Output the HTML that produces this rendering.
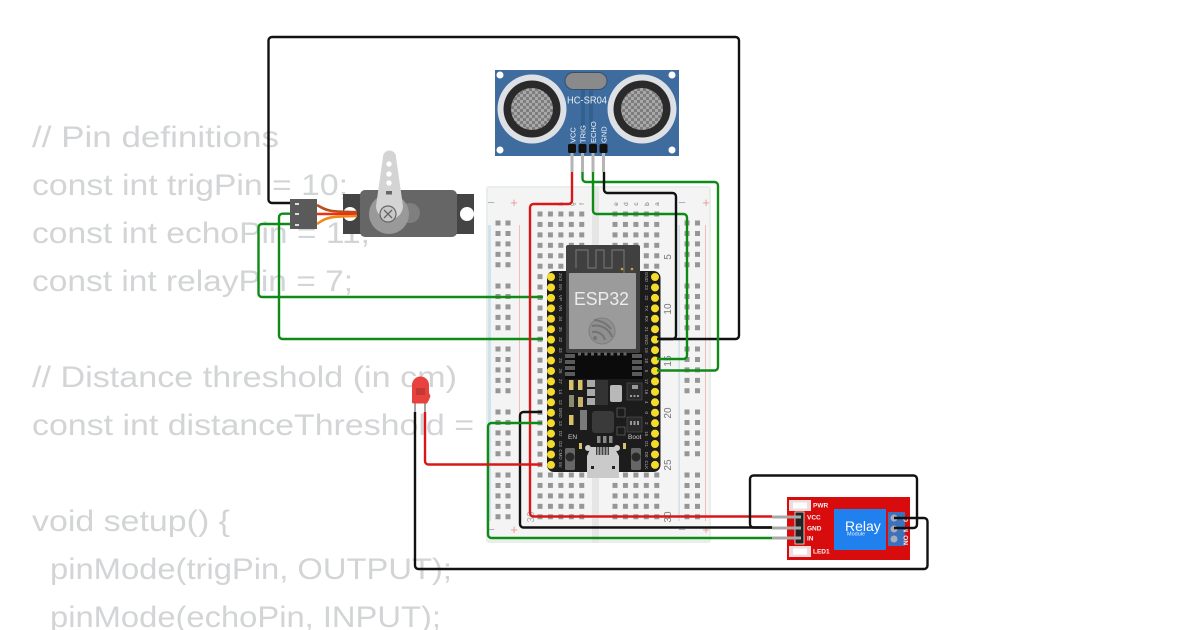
<!DOCTYPE html>
<html><head><meta charset="utf-8"><style>
html,body{margin:0;padding:0;background:#fff;width:1200px;height:630px;overflow:hidden}
svg{display:block}
.c{font-family:"Liberation Sans",sans-serif;font-size:30px;fill:#d2d4d6}
.w{fill:none;stroke-width:2.4;stroke-linejoin:round}
.m{font-family:"Liberation Sans",sans-serif}
</style></head><body>
<svg width="1200" height="630" viewBox="0 0 1200 630" xmlns="http://www.w3.org/2000/svg">
<defs>
<pattern id="h" x="537.5" y="211.5" width="10.44" height="10.44" patternUnits="userSpaceOnUse"><rect width="5" height="5" fill="#969696"/></pattern>
<pattern id="h2" x="612.5" y="211.5" width="10.44" height="10.44" patternUnits="userSpaceOnUse"><rect width="5" height="5" fill="#969696"/></pattern>
<pattern id="mesh" width="6" height="6" patternUnits="userSpaceOnUse" patternTransform="translate(1 1)"><rect width="6" height="6" fill="#7d7d7d"/><rect width="3" height="3" fill="#a8a8a8"/><rect x="3" y="3" width="3" height="3" fill="#a8a8a8"/></pattern>
</defs>
<g class="c" lengthAdjust="spacingAndGlyphs">
<text x="32" y="147" textLength="247" lengthAdjust="spacingAndGlyphs">// Pin definitions</text>
<text x="32" y="195" textLength="316" lengthAdjust="spacingAndGlyphs">const int trigPin = 10;</text>
<text x="32" y="243" textLength="338" lengthAdjust="spacingAndGlyphs">const int echoPin = 11;</text>
<text x="32" y="291" textLength="321" lengthAdjust="spacingAndGlyphs">const int relayPin = 7;</text>
<text x="32" y="387" textLength="425" lengthAdjust="spacingAndGlyphs">// Distance threshold (in cm)</text>
<text x="32" y="435" textLength="442" lengthAdjust="spacingAndGlyphs">const int distanceThreshold =</text>
<text x="32" y="531" textLength="198" lengthAdjust="spacingAndGlyphs">void setup() {</text>
<text x="50" y="579" textLength="402" lengthAdjust="spacingAndGlyphs">pinMode(trigPin, OUTPUT);</text>
<text x="50" y="627" textLength="391" lengthAdjust="spacingAndGlyphs">pinMode(echoPin, INPUT);</text>
</g>

<!-- breadboard -->
<rect x="486" y="186" width="225" height="357" rx="3" fill="#e8efe8"/>
<rect x="488" y="188" width="221" height="352" fill="#f4f4f4"/>
<rect x="592" y="186" width="7" height="357" fill="#e6e6e6"/>
<rect x="488" y="225" width="3" height="296" fill="#cfe3ee"/>
<rect x="519" y="225" width="1" height="296" fill="#f2bcbc"/>
<rect x="678.500" y="225" width="1.200" height="296" fill="#c4dcea"/>
<rect x="705" y="225" width="1" height="296" fill="#f2bcbc"/>
<rect x="535" y="209" width="52.500" height="314" fill="url(#h)"/>
<rect x="610" y="209" width="52.500" height="314" fill="url(#h2)"/>
<g stroke="#969696" stroke-width="5" fill="none" stroke-dasharray="5 5.440">
<path d="M498 220.500V268M508 220.500V268M498 283.500V331M508 283.500V331M498 346.500V394M508 346.500V394M498 409.500V457M508 409.500V457M498 472.500V520M508 472.500V520"/>
<path d="M687 220.500V268M697.500 220.500V268M687 283.500V331M697.500 283.500V331M687 346.500V394M697.500 346.500V394M687 409.500V457M697.500 409.500V457M687 472.500V520M697.500 472.500V520"/>
</g>
<g class="m" font-size="10" fill="#777" text-anchor="middle">
<text transform="translate(671,257) rotate(-90)">5</text>
<text transform="translate(671,309) rotate(-90)">10</text>
<text transform="translate(671,361) rotate(-90)">15</text>
<text transform="translate(671,413) rotate(-90)">20</text>
<text transform="translate(671,465) rotate(-90)">25</text>
<text transform="translate(671,517) rotate(-90)">30</text>
<text transform="translate(534,517) rotate(-90)" fill="#aaa">30</text>
<g font-size="6.500">
<text transform="translate(543,204) rotate(-90)">j</text>
<text transform="translate(553,204) rotate(-90)">i</text>
<text transform="translate(563,204) rotate(-90)">h</text>
<text transform="translate(574,204) rotate(-90)">g</text>
<text transform="translate(584,204) rotate(-90)">f</text>
<text transform="translate(618,204) rotate(-90)">e</text>
<text transform="translate(628,204) rotate(-90)">d</text>
<text transform="translate(638,204) rotate(-90)">c</text>
<text transform="translate(649,204) rotate(-90)">b</text>
<text transform="translate(659,204) rotate(-90)">a</text>
</g>
</g>
<g class="m" font-size="13" text-anchor="middle">
<text x="491" y="207" fill="#aac">−</text><text x="514" y="207" fill="#e89a9a">+</text>
<text x="682" y="207" fill="#aac">−</text><text x="706" y="207" fill="#e89a9a">+</text>
<text x="491" y="534" fill="#aac">−</text><text x="514" y="534" fill="#e89a9a">+</text>
<text x="682" y="534" fill="#aac">−</text><text x="706" y="534" fill="#e89a9a">+</text>
</g>

<!-- ESP32 -->
<rect x="547" y="271" width="113.500" height="201" rx="7" fill="#1c1c1c"/>
<rect x="566" y="245" width="74" height="108" rx="2" fill="#404040"/>
<path d="M576 268V250h12v18h8V250h8v18h8V250h12v24" fill="none" stroke="#707070" stroke-width="1.200"/>
<circle cx="622" cy="269" r="1.300" fill="#c8a040"/><circle cx="632" cy="269" r="1.300" fill="#c8a040"/>
<rect x="569" y="273" width="67" height="76" rx="1" fill="#9b9b9b"/>
<text class="m" x="574" y="305" font-size="18.500" fill="#ececec" textLength="55" lengthAdjust="spacingAndGlyphs">ESP32</text>
<circle cx="602" cy="331" r="13" fill="#909090" stroke="#7e7e7e" stroke-width="1"/>
<path d="M592 326a17 17 0 0 1 20 11M592 332a11 11 0 0 1 13 8M594 320a24 24 0 0 1 17 9" fill="none" stroke="#747474" stroke-width="2"/>
<circle cx="595" cy="338" r="2" fill="#747474"/>
<rect x="565" y="353" width="78" height="26" fill="#0b0b0b"/>
<g fill="#5a5a5a"><rect x="565" y="354" width="10" height="4"/><rect x="565" y="360" width="10" height="4"/><rect x="565" y="366" width="10" height="4"/><rect x="565" y="372" width="10" height="4"/><rect x="632" y="354" width="10" height="4"/><rect x="632" y="360" width="10" height="4"/><rect x="632" y="366" width="10" height="4"/><rect x="632" y="372" width="10" height="4"/></g>
<path d="M578 354H628" stroke="#666" stroke-width="3" stroke-dasharray="3 3.500"/>
<g stroke="#f5dc2b" stroke-width="8" stroke-linecap="round" fill="none" stroke-dasharray="0 10.440">
<path d="M551 277V466M655 277V466"/>
</g>
<g class="m" font-size="4.500" fill="#aaa" text-anchor="middle">
<text transform="translate(559,277) rotate(90)">3V3</text><text transform="translate(559,287.400) rotate(90)">EN</text><text transform="translate(559,297.900) rotate(90)">VP</text><text transform="translate(559,308.300) rotate(90)">VN</text><text transform="translate(559,318.800) rotate(90)">34</text><text transform="translate(559,329.200) rotate(90)">35</text><text transform="translate(559,339.600) rotate(90)">32</text><text transform="translate(559,350.100) rotate(90)">33</text><text transform="translate(559,360.500) rotate(90)">25</text><text transform="translate(559,371) rotate(90)">26</text><text transform="translate(559,381.400) rotate(90)">27</text><text transform="translate(559,391.800) rotate(90)">14</text><text transform="translate(559,402.300) rotate(90)">12</text><text transform="translate(559,412.700) rotate(90)">GND</text><text transform="translate(559,423.200) rotate(90)">13</text><text transform="translate(559,433.600) rotate(90)">D2</text><text transform="translate(559,444) rotate(90)">D3</text><text transform="translate(559,454.500) rotate(90)">CMD</text><text transform="translate(559,464.900) rotate(90)">5V</text>
<text transform="translate(645,277) rotate(90)">GND</text><text transform="translate(645,287.400) rotate(90)">23</text><text transform="translate(645,297.900) rotate(90)">22</text><text transform="translate(645,308.300) rotate(90)">TX</text><text transform="translate(645,318.800) rotate(90)">RX</text><text transform="translate(645,329.200) rotate(90)">21</text><text transform="translate(645,339.600) rotate(90)">GND</text><text transform="translate(645,350.100) rotate(90)">19</text><text transform="translate(645,360.500) rotate(90)">18</text><text transform="translate(645,371) rotate(90)">5</text><text transform="translate(645,381.400) rotate(90)">17</text><text transform="translate(645,391.800) rotate(90)">16</text><text transform="translate(645,402.300) rotate(90)">4</text><text transform="translate(645,412.700) rotate(90)">0</text><text transform="translate(645,423.200) rotate(90)">2</text><text transform="translate(645,433.600) rotate(90)">15</text><text transform="translate(645,444) rotate(90)">D1</text><text transform="translate(645,454.500) rotate(90)">D0</text><text transform="translate(645,464.900) rotate(90)">CLK</text>
</g>
<!-- components -->
<rect x="569" y="380" width="4.500" height="10" fill="#d9c06a"/><rect x="578" y="380" width="4.500" height="10" fill="#d9c06a"/>
<rect x="569" y="395" width="5" height="12" fill="#8a8a70"/><rect x="578" y="397" width="5" height="10" fill="#c9b36a"/>
<rect x="595" y="380" width="13" height="25" fill="#333"/>
<rect x="587" y="380" width="8" height="7" fill="#aaa"/><rect x="587" y="389" width="8" height="7" fill="#aaa"/><rect x="587" y="398" width="8" height="7" fill="#aaa"/>
<rect x="610" y="385" width="12" height="17" rx="2" fill="#b8b8b8"/>
<rect x="627" y="383" width="15" height="17" fill="#2a2a2a" stroke="#555" stroke-width=".6"/><rect x="632" y="385" width="6" height="4" fill="#999"/><path d="M630 396h9" stroke="#999" stroke-width="2" stroke-dasharray="2 1.500"/>
<rect x="592" y="411" width="22" height="22" rx="3" fill="#3a3a3a"/>
<rect x="569" y="415" width="4.500" height="10" fill="#d9c06a"/>
<rect x="580" y="410" width="7" height="20" fill="#9a9a9a" opacity=".75"/>
<rect x="617" y="408" width="8" height="9" fill="none" stroke="#666" stroke-width=".7"/>
<rect x="617" y="427" width="8" height="8" fill="none" stroke="#666" stroke-width=".7"/>
<rect x="627" y="417" width="15" height="15" fill="#2a2a2a" stroke="#555" stroke-width=".6"/><path d="M630 423h9" stroke="#999" stroke-width="4" stroke-dasharray="2 1.500"/>
<rect x="597" y="436" width="3.500" height="7" fill="#888"/><rect x="603" y="436" width="3.500" height="7" fill="#888"/><rect x="609" y="436" width="3.500" height="7" fill="#888"/>
<rect x="579" y="443" width="3" height="6" fill="#d9c06a"/><rect x="623" y="443" width="3" height="6" fill="#d9c06a"/>
<text class="m" x="568" y="439" font-size="6.500" fill="#ccc">EN</text>
<text class="m" x="628" y="439" font-size="6.500" fill="#ccc">Boot</text>
<rect x="565" y="448" width="10" height="22" rx="1.500" fill="#666"/><circle cx="570" cy="457" r="4.500" fill="#2a2a2a"/>
<rect x="631" y="448" width="10" height="22" rx="1.500" fill="#666"/><circle cx="636" cy="457" r="4.500" fill="#2a2a2a"/>
<circle cx="588" cy="448" r="3" fill="#ccc"/><circle cx="617" cy="448" r="3" fill="#ccc"/>
<path d="M591 447H614L619 456V478H587V456Z" fill="#cacaca"/>
<rect x="596" y="447" width="13" height="8" fill="#444"/>
<path d="M598 447v8M601 447v8M604 447v8M607 447v8" stroke="#ddd" stroke-width="1"/>
<rect x="591" y="466" width="3" height="3" fill="#222"/><rect x="612" y="466" width="3" height="3" fill="#222"/>

<!-- HC-SR04 -->
<rect x="495" y="70" width="184" height="86" fill="#3f6c9e"/>
<circle cx="500" cy="75" r="3.500" fill="#fff"/><circle cx="672" cy="75" r="3.500" fill="#fff"/>
<circle cx="500" cy="150" r="3.500" fill="#fff"/><circle cx="672" cy="150" r="3.500" fill="#fff"/>
<circle cx="532" cy="109" r="34.500" fill="#dde1e5"/><circle cx="532" cy="109" r="28.500" fill="#2a2a2a"/><circle cx="532" cy="109" r="21" fill="url(#mesh)"/>
<circle cx="642" cy="109" r="34.500" fill="#dde1e5"/><circle cx="642" cy="109" r="28.500" fill="#2a2a2a"/><circle cx="642" cy="109" r="21" fill="url(#mesh)"/>
<rect x="565" y="72.500" width="42" height="17" rx="8.500" fill="#8a8a8a" stroke="#33506f" stroke-width="1"/>
<rect x="581" y="90" width="4" height="40" fill="#33608f"/><rect x="589" y="90" width="4" height="40" fill="#33608f"/>
<text class="m" x="567" y="103.500" font-size="10" fill="#eaeef2" textLength="40" lengthAdjust="spacingAndGlyphs">HC-SR04</text>
<g class="m" font-size="7.500" fill="#f2f5fa">
<text transform="translate(575.500,143) rotate(-90)">VCC</text>
<text transform="translate(585.500,143) rotate(-90)">TRIG</text>
<text transform="translate(596,143) rotate(-90)">ECHO</text>
<text transform="translate(606.500,143) rotate(-90)">GND</text>
</g>
<path d="M572 152V172M582.500 152V172M593 152V172M603.500 152V172" stroke="#b5b5b5" stroke-width="3"/>
<g fill="#111"><rect x="568" y="144" width="8" height="9" rx="1.500"/><rect x="578.500" y="144" width="8" height="9" rx="1.500"/><rect x="589" y="144" width="8" height="9" rx="1.500"/><rect x="599.500" y="144" width="8" height="9" rx="1.500"/></g>

<!-- servo -->
<rect x="343" y="194" width="131" height="40" fill="#444"/>
<circle cx="350" cy="214" r="7" fill="#fff"/><circle cx="467" cy="214" r="7" fill="#fff"/>
<rect x="360" y="190" width="97" height="47" rx="5" fill="#666"/>
<circle cx="410" cy="213" r="10" fill="#7f7f7f"/>
<circle cx="389" cy="214" r="20" fill="#999"/>
<path d="M383 157a6.500 6.500 0 0 1 13 0L403 206a13 13 0 1 1-27 0Z" fill="#d4d4d4"/>
<circle cx="389" cy="164" r="2.700" fill="#fff"/><circle cx="389" cy="174" r="2.700" fill="#fff"/><circle cx="389" cy="183" r="2.700" fill="#fff"/>
<rect x="386" y="191" width="6" height="3.500" fill="#666"/>
<circle cx="388" cy="214" r="8" fill="#c8c8c8" stroke="#666" stroke-width="1.200"/>
<path d="M384 210l8 8M392 210l-8 8" stroke="#666" stroke-width="1.300"/>
<path d="M317 205C327 211 330 212 357 212" fill="none" stroke="#b8501c" stroke-width="2.600"/>
<path d="M317 214H357" fill="none" stroke="#ee2f12" stroke-width="2.600"/>
<path d="M317 224C327 217 330 216.500 357 216" fill="none" stroke="#ee8a1b" stroke-width="2.600"/>
<rect x="290" y="199" width="27" height="30" fill="#5a5a5a"/>
<g fill="#ddd"><rect x="295" y="203" width="4" height="2"/><rect x="295" y="213" width="4" height="2"/><rect x="295" y="224" width="4" height="2"/></g>

<!-- LED -->
<path d="M415 402V412M425 402V412" stroke="#999" stroke-width="1.800"/>
<path d="M412 403V385a8.500 8.500 0 0 1 17 0V393l1.500 3-1.500 4-2 3.500H414Z" fill="#e8423f"/>
<rect x="416" y="388" width="9" height="7" fill="#b83432" opacity=".75"/>

<!-- relay -->
<rect x="787" y="497" width="123" height="63" fill="#d80c0c"/>
<rect x="789" y="500" width="22" height="11" fill="#f0dcdc"/><rect x="793" y="502.500" width="14" height="6" fill="#fff"/>
<rect x="789" y="546" width="22" height="11" fill="#f0dcdc"/><rect x="793" y="548.500" width="14" height="6" fill="#fff"/>
<rect x="795" y="512" width="9" height="32" fill="#222" stroke="#eee" stroke-width=".8"/>
<rect x="834" y="509" width="52" height="41" fill="#2080ee"/>
<text class="m" x="845" y="531" font-size="14" fill="#fff">Relay</text>
<text class="m" x="847" y="535.500" font-size="5.500" fill="#e5f0ff">Module</text>
<rect x="888" y="512" width="17" height="34" fill="#3a72bb"/>
<circle cx="894" cy="518" r="3.500" fill="#aab"/><circle cx="894" cy="529" r="3.500" fill="#aab"/><circle cx="894" cy="539" r="3.500" fill="#aab"/>
<g class="m" font-size="6.500" fill="#f4f4f4" font-weight="bold">
<text x="813" y="507.500">PWR</text><text x="807" y="519.500">VCC</text><text x="807" y="530.500">GND</text><text x="807" y="540.500">IN</text><text x="813" y="553.500">LED1</text>
<text transform="translate(908,522) rotate(-90)">C</text>
<text transform="translate(908,532) rotate(-90)">M</text>
<text transform="translate(908,545) rotate(-90)">NO</text>
</g>
<path d="M772 517H801M772 528H801M772 538H801" stroke="#a8a8a8" stroke-width="3"/>

<!-- wires -->
<g class="w">
<path stroke="#111" d="M290 203H272a3.500 3.500 0 0 1-3.500-3.500V40.500A3.500 3.500 0 0 1 272 37H735.500a3.500 3.500 0 0 1 3.500 3.500V335.500a3.500 3.500 0 0 1-3.500 3.500H657"/>
<path stroke="#0f8a17" d="M290 213.700H282.500a3.500 3.500 0 0 0-3.500 3.500V335.500a3.500 3.500 0 0 0 3.500 3.500H543"/>
<path stroke="#0f8a17" d="M290 224H262a3.500 3.500 0 0 0-3.500 3.500V293.500a3.500 3.500 0 0 0 3.500 3.500H543"/>
<path stroke="#d81818" d="M572 172V200.500a3.500 3.500 0 0 1-3.500 3.500H533.500a3.500 3.500 0 0 0-3.500 3.500V513a3.500 3.500 0 0 0 3.500 3.500H772"/>
<path stroke="#0f8a17" d="M582.500 172V178.500a3.500 3.500 0 0 0 3.500 3.500H714.500a3.500 3.500 0 0 1 3.500 3.500V367a3.500 3.500 0 0 1-3.500 3.500H657"/>
<path stroke="#0f8a17" d="M593 172V210.500a3.500 3.500 0 0 0 3.500 3.500H683.500a3.500 3.500 0 0 1 3.500 3.500V355.500a3.500 3.500 0 0 1-3.500 3.500H657"/>
<path stroke="#111" d="M604 172V189.500a3.500 3.500 0 0 0 3.500 3.500H672.500a3.500 3.500 0 0 1 3.500 3.500V335.500a3.500 3.500 0 0 1-3.500 3.500H657"/>
<path stroke="#111" d="M542 412H523.500a3.500 3.500 0 0 0-3.500 3.500V524a3.500 3.500 0 0 0 3.500 3.500H772"/>
<path stroke="#0f8a17" d="M542 423H491.500a3.500 3.500 0 0 0-3.500 3.500V534.500a3.500 3.500 0 0 0 3.500 3.500H772"/>
<path stroke="#d81818" d="M425 412V461a3.500 3.500 0 0 0 3.500 3.500H542"/>
<path stroke="#111" d="M415 412V565.500a3.500 3.500 0 0 0 3.500 3.500H924a3.500 3.500 0 0 0 3.500-3.500V521.500a3.500 3.500 0 0 0-3.500-3.500H894"/>
<path stroke="#111" d="M772 527.500H753.500a3.500 3.500 0 0 1-3.500-3.500V479a3.500 3.500 0 0 1 3.500-3.500H913.500a3.500 3.500 0 0 1 3.500 3.500V524.500a3.500 3.500 0 0 1-3.500 3.500H894"/>
</g>
</svg>
</body></html>
